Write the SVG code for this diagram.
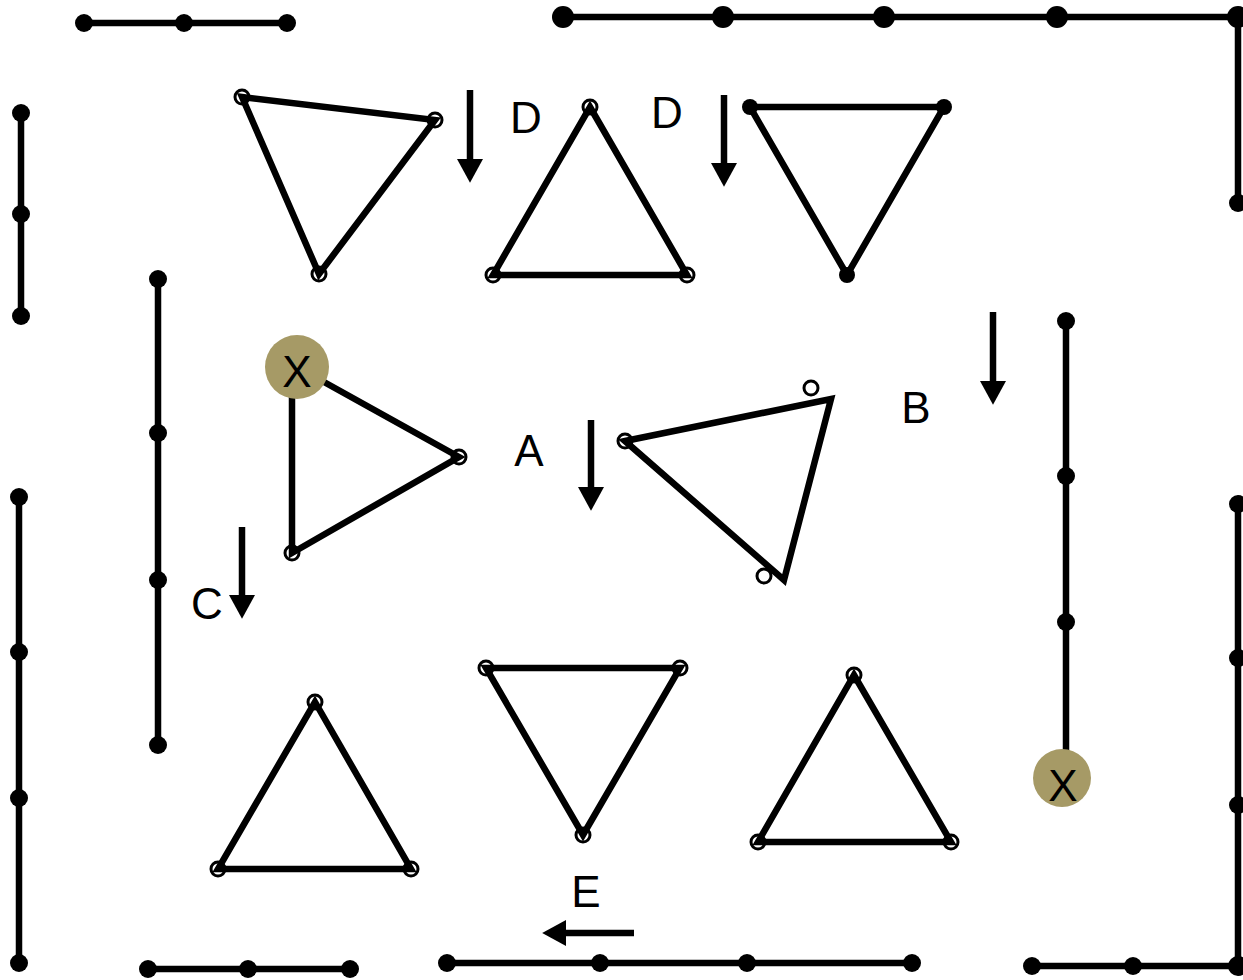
<svg xmlns="http://www.w3.org/2000/svg" width="1243" height="980" viewBox="0 0 1243 980">
<style>
.ln{stroke:#000;stroke-width:6.5;fill:none;stroke-linecap:butt;stroke-linejoin:miter}
.dot{fill:#000}
.oc{fill:#fff;stroke:#000;stroke-width:3}
.tri{stroke:#000;stroke-width:6.5;fill:none;stroke-linejoin:miter}
.lbl{font-family:"Liberation Sans",Arial,sans-serif;font-size:44px;fill:#000;text-anchor:middle}
.xn{fill:#a69a66}
.arr{stroke:#000;stroke-width:6.5;fill:none}
</style>
<defs>
<marker id="ah" markerUnits="userSpaceOnUse" markerWidth="24" markerHeight="26" viewBox="0 0 22 24" refX="0" refY="12" orient="auto">
<path d="M0,0 L22,12 L0,24 Z" fill="#000"/>
</marker>
</defs>
<rect width="1243" height="980" fill="#fff"/>
<g id="connectors">
<path class="ln" d="M84,23 H287"/>
<path class="ln" d="M563,17 H1238 V203"/>
<path class="ln" d="M21,113 V316"/>
<path class="ln" d="M158,279 V745"/>
<path class="ln" d="M19,497 V963"/>
<path class="ln" d="M148,969 H350"/>
<path class="ln" d="M447,963 H912"/>
<path class="ln" d="M1032,966 H1238 V504"/>
<path class="ln" d="M1066,321 V760"/>
<path class="arr" d="M470,90 V159" marker-end="url(#ah)"/>
<path class="arr" d="M724,95 V163" marker-end="url(#ah)"/>
<path class="arr" d="M993,312 V381" marker-end="url(#ah)"/>
<path class="arr" d="M591,420 V487" marker-end="url(#ah)"/>
<path class="arr" d="M242,527 V595" marker-end="url(#ah)"/>
<path class="arr" d="M634,933 H566" marker-end="url(#ah)"/>
</g>
<g id="dots">
<circle class="dot" cx="84" cy="23" r="9"/><circle class="dot" cx="184" cy="23" r="9"/><circle class="dot" cx="287" cy="23" r="9"/>
<circle class="dot" cx="563" cy="17" r="11"/><circle class="dot" cx="723" cy="17" r="11"/><circle class="dot" cx="884" cy="17" r="11"/><circle class="dot" cx="1057" cy="17" r="11"/><circle class="dot" cx="1238" cy="17" r="11"/><circle class="dot" cx="1238" cy="203" r="9"/>
<circle class="dot" cx="21" cy="113" r="9"/><circle class="dot" cx="21" cy="214" r="9"/><circle class="dot" cx="21" cy="316" r="9"/>
<circle class="dot" cx="158" cy="279" r="9"/><circle class="dot" cx="158" cy="433" r="9"/><circle class="dot" cx="158" cy="580" r="9"/><circle class="dot" cx="158" cy="745" r="9"/>
<circle class="dot" cx="19" cy="497" r="9"/><circle class="dot" cx="19" cy="652" r="9"/><circle class="dot" cx="19" cy="798" r="9"/><circle class="dot" cx="19" cy="963" r="9"/>
<circle class="dot" cx="148" cy="969" r="9"/><circle class="dot" cx="248" cy="969" r="9"/><circle class="dot" cx="350" cy="969" r="9"/>
<circle class="dot" cx="447" cy="963" r="9"/><circle class="dot" cx="600" cy="963" r="9"/><circle class="dot" cx="747" cy="963" r="9"/><circle class="dot" cx="912" cy="963" r="9"/>
<circle class="dot" cx="1032" cy="966" r="9"/><circle class="dot" cx="1133" cy="966" r="9"/><circle class="dot" cx="1238" cy="966" r="10"/><circle class="dot" cx="1238" cy="805" r="9"/><circle class="dot" cx="1238" cy="658" r="9"/><circle class="dot" cx="1238" cy="504" r="9"/>
<circle class="dot" cx="1066" cy="321" r="9"/><circle class="dot" cx="1066" cy="476" r="9"/><circle class="dot" cx="1066" cy="622" r="9"/>
</g>
<g id="tri1">
<circle class="oc" cx="242" cy="97" r="7"/><circle class="oc" cx="435" cy="120" r="7"/><circle class="oc" cx="319" cy="274" r="7"/>
<path class="tri" d="M242,97 L435,120 L319,274 Z"/>
</g>
<g id="tri2">
<circle class="oc" cx="590" cy="107" r="7"/><circle class="oc" cx="493" cy="275" r="7"/><circle class="oc" cx="687" cy="275" r="7"/>
<path class="tri" d="M590,107 L687,275 L493,275 Z"/>
</g>
<g id="tri3">
<path class="tri" d="M750,107 L944,107 L847,275 Z"/>
<circle class="dot" cx="750" cy="107" r="8"/><circle class="dot" cx="944" cy="107" r="8"/><circle class="dot" cx="847" cy="275" r="8"/>
</g>
<g id="tri4">
<circle class="oc" cx="459" cy="457" r="7"/><circle class="oc" cx="292" cy="553" r="7"/>
<path class="tri" d="M297,367 L459,457 L292,553 L292,367"/>
<g id="x1"><circle class="xn" cx="297" cy="367" r="32"/><text class="lbl" x="297" y="387">X</text></g>
</g>
<g id="tri5">
<circle class="oc" cx="625" cy="441" r="7"/><circle class="oc" cx="811" cy="388" r="7"/><circle class="oc" cx="764" cy="576" r="7"/>
<path class="tri" d="M625,441 L831,399 L784,580 Z"/>
</g>
<g id="tri6">
<circle class="oc" cx="315" cy="702" r="7"/><circle class="oc" cx="218" cy="869" r="7"/><circle class="oc" cx="411" cy="869" r="7"/>
<path class="tri" d="M315,702 L411,869 L218,869 Z"/>
</g>
<g id="tri7">
<circle class="oc" cx="486" cy="668" r="7"/><circle class="oc" cx="680" cy="668" r="7"/><circle class="oc" cx="583" cy="835" r="7"/>
<path class="tri" d="M486,668 L680,668 L583,835 Z"/>
</g>
<g id="tri8">
<circle class="oc" cx="854" cy="675" r="7"/><circle class="oc" cx="758" cy="842" r="7"/><circle class="oc" cx="951" cy="842" r="7"/>
<path class="tri" d="M854,675 L951,842 L758,842 Z"/>
</g>
<g id="x2"><circle class="xn" cx="1062" cy="778" r="29"/><text class="lbl" x="1063" y="801">X</text></g>
<g id="labels">
<text class="lbl" x="526" y="133">D</text>
<text class="lbl" x="667" y="128">D</text>
<text class="lbl" x="529" y="466">A</text>
<text class="lbl" x="916" y="423">B</text>
<text class="lbl" x="207" y="619">C</text>
<text class="lbl" x="586" y="907">E</text>
</g>
</svg>
